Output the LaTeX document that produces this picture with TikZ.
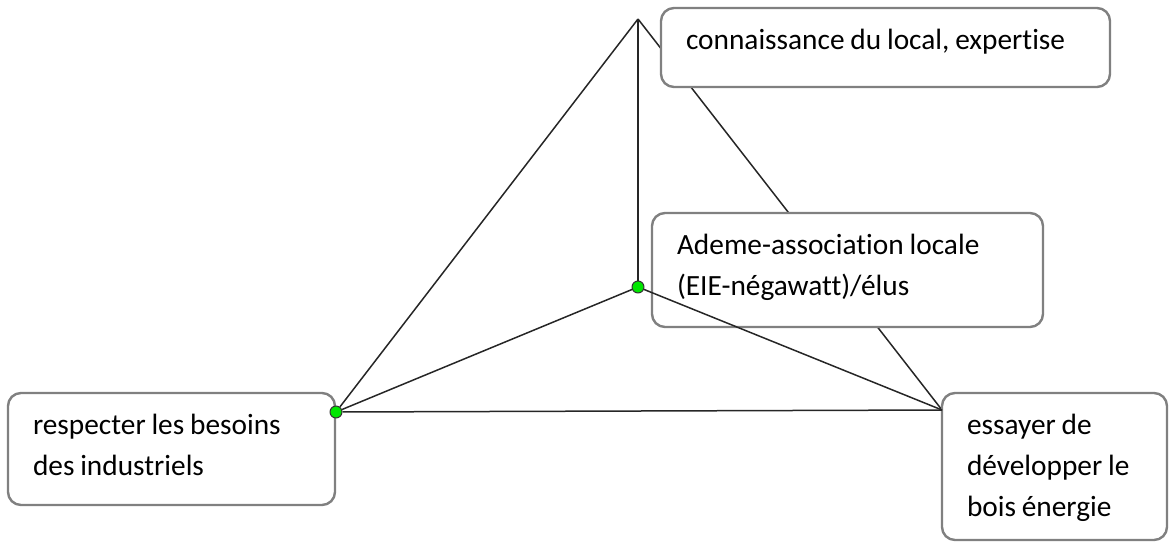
\documentclass[tikz,border=0pt]{standalone}
\usepackage{fontspec}
\setmainfont{Carlito}[Ligatures=NoCommon]
\definecolor{vert}{RGB}{0,230,0}
\newcommand\espaceboite{\spaceskip=2.9pt plus 1pt minus 0.5pt\relax}
\tikzset{
boite/.style={draw=black!50, line width=1.2pt, fill=white, rounded corners=6.5pt,
  outer sep=0pt, inner xsep=12.5pt, inner ysep=0pt, align=flush left, anchor=north west,
  text height=20.5pt, font=\fontsize{14.67pt}{20.5pt}\selectfont,
  execute at begin node=\espaceboite},
trait/.style={black!85, line width=0.75pt},
point/.style={circle, fill=vert, draw=black!80, line width=0.5pt, inner sep=0pt, minimum size=6pt}
}

\begin{document}
\begin{tikzpicture}[x=0.5pt, y=-0.5pt, line join=round]
\useasboundingbox (0,0) rectangle (1169,542);
\coordinate (A) at (638,19);
\coordinate (D) at (942,410);
\draw[trait] (A)--(D);
\node[boite, text width=199.5pt, text depth=19pt] (haut) at (661,8) {connaissance du local, expertise};
\node[boite, text width=170.5pt, text depth=36.5pt] (milieu) at (652,213) {Ademe-association locale\\(EIE-négawatt)/élus};
\node[boite, text width=138.5pt, text depth=35.5pt] (gauche) at (8,393) {respecter les besoins\\des industriels};
\node[boite, text width=87.5pt, text depth=53pt] (droite) at (942,393) {essayer de\\développer le\\bois énergie};
\node[point] (M) at (638,287) {};
\node[point] (G) at (336,412) {};
\draw[trait] (A)--(M);
\foreach \p in {A,M,D} {\draw[trait] (G)--(\p);}
\draw[trait] (M)--(D);
\end{tikzpicture}
\end{document}
